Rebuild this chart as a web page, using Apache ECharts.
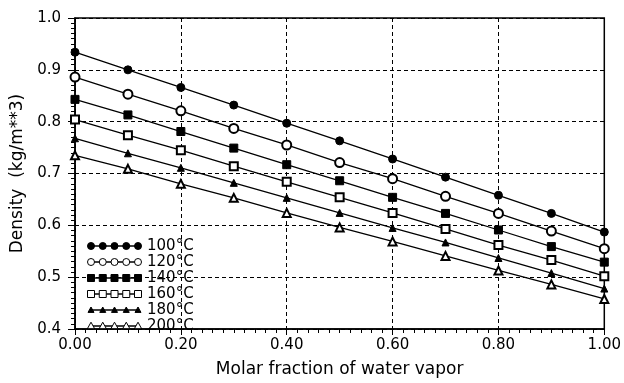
<!DOCTYPE html>
<html>
<head>
<meta charset="utf-8">
<script src="https://cdn.jsdelivr.net/npm/echarts@6/dist/echarts.min.js"></script>
<style>
  html, body { margin: 0; padding: 0; background: #fff; }
  #chart { width: 624px; height: 383px; }
</style>
</head>
<body>
<div id="chart"></div>
<script>
const xValues = [0, 0.1, 0.2, 0.3, 0.4, 0.5, 0.6, 0.7, 0.8, 0.9, 1.0]
const seriesNames = ['100°C', '120°C', '140°C', '160°C', '180°C', '200°C']
const d100 = [0.934, 0.900, 0.866, 0.832, 0.797, 0.763, 0.728, 0.693, 0.658, 0.623, 0.587]
const d120 = [0.886, 0.853, 0.821, 0.787, 0.755, 0.721, 0.690, 0.656, 0.623, 0.589, 0.555]
const d140 = [0.843, 0.813, 0.781, 0.749, 0.717, 0.686, 0.654, 0.623, 0.591, 0.559, 0.529]
const d160 = [0.804, 0.774, 0.745, 0.714, 0.684, 0.654, 0.624, 0.593, 0.562, 0.533, 0.502]
const d180 = [0.768, 0.739, 0.711, 0.682, 0.653, 0.624, 0.595, 0.567, 0.537, 0.508, 0.478]
const d200 = [0.735, 0.709, 0.680, 0.653, 0.624, 0.596, 0.569, 0.541, 0.513, 0.486, 0.458]
const symbols = ['circle', 'emptyCircle', 'rect', 'emptyRect', 'triangle', 'emptyTriangle']
const symbolSizes = [8, 9, 8, 8, 7, 8]

const allData = [d100, d120, d140, d160, d180, d200]
const font = 'DejaVu Sans, Verdana, sans-serif'

const chart = echarts.init(document.getElementById('chart'))

const series = allData.map((vals, i) => ({
  name: seriesNames[i],
  type: 'line',
  xAxisIndex: 0,
  yAxisIndex: 0,
  data: xValues.map((x, j) => [x, vals[j]]),
  symbol: symbols[i],
  symbolSize: symbolSizes[i],
  showAllSymbol: true,
  lineStyle: { color: '#000', width: 1.3 },
  itemStyle: { color: '#000', borderColor: '#000', borderWidth: 1 },
  emphasis: { disabled: true },
  z: 5
}))

// legend drawn by hand: line with five markers, then the label
const legendGraphics = []
const lx0 = 91, lx1 = 138, ly0 = 246, ldy = 16
seriesNames.forEach((name, i) => {
  const y = ly0 + i * ldy
  legendGraphics.push({
    type: 'line',
    shape: { x1: lx0, y1: y, x2: lx1, y2: y },
    style: { stroke: '#000', lineWidth: 1.3 }
  })
  for (let k = 0; k < 5; k++) {
    const cx = lx0 + k * (lx1 - lx0) / 4
    const hollow = i % 2 === 1
    const st = { fill: hollow ? '#fff' : '#000', stroke: '#000', lineWidth: 1 }
    if (i < 2) {
      legendGraphics.push({ type: 'circle', shape: { cx: cx, cy: y, r: 3.5 }, style: st })
    } else if (i < 4) {
      legendGraphics.push({ type: 'rect', shape: { x: cx - 3.5, y: y - 3.5, width: 7, height: 7 }, style: st })
    } else {
      const s = i === 4 ? 3 : 3.8
      legendGraphics.push({
        type: 'polygon',
        shape: { points: [[cx - s, y + s * 0.8], [cx + s, y + s * 0.8], [cx, y - s]] },
        style: st
      })
    }
  }
  legendGraphics.push({
    type: 'text',
    x: 147, y: y,
    style: { text: name, fill: '#000', font: '15px ' + font, textVerticalAlign: 'middle' }
  })
})

const dash = { color: '#000', type: [4, 3], width: 1 }
const tickStyle = { color: '#000', width: 1 }

// x ticks: outward ticks do not render here, so draw inward ticks on axes shifted below the axis line
const xTickAxis = (interval, len) => ({
  type: 'value',
  position: 'bottom',
  offset: len,
  min: 0,
  max: 1,
  interval: interval,
  axisLine: { show: false, onZero: false },
  axisTick: { show: true, inside: true, length: len, lineStyle: tickStyle },
  axisLabel: { show: false },
  splitLine: { show: false }
})

chart.setOption({
  animation: false,
  backgroundColor: '#fff',
  grid: {
    left: 75,
    right: 17,
    top: 18,
    bottom: 45,
    show: true,
    borderColor: '#000',
    borderWidth: 1.5,
    backgroundColor: 'transparent'
  },
  xAxis: [
    {
      type: 'value',
      position: 'bottom',
      min: 0,
      max: 1,
      interval: 0.2,
      name: 'Molar fraction of water vapor',
      nameLocation: 'middle',
      nameGap: 32,
      nameTextStyle: { color: '#000', fontSize: 17, fontFamily: font },
      axisLine: { show: true, onZero: false, lineStyle: { color: '#000', width: 1.5 } },
      axisTick: { show: false },
      axisLabel: {
        color: '#000', fontSize: 15, fontFamily: font, margin: 9,
        formatter: v => v.toFixed(2)
      },
      splitLine: { show: true, lineStyle: dash }
    },
    xTickAxis(0.02, 4),
    xTickAxis(0.2, 6)
  ],
  yAxis: [
    {
      type: 'value',
      position: 'left',
      min: 0.4,
      max: 1.0,
      interval: 0.1,
      name: 'Density  (kg/m**3)',
      nameLocation: 'middle',
      nameGap: 42,
      nameTextStyle: { color: '#000', fontSize: 17, fontFamily: font },
      axisLine: { show: true, onZero: false, lineStyle: { color: '#000', width: 1.5 } },
      axisTick: { show: true, length: 7, lineStyle: tickStyle },
      axisLabel: {
        color: '#000', fontSize: 15, fontFamily: font, margin: 14,
        formatter: v => v.toFixed(1)
      },
      splitLine: { show: true, lineStyle: dash }
    },
    {
      // minor ticks only
      type: 'value',
      position: 'left',
      offset: 0,
      min: 0.4,
      max: 1.0,
      interval: 0.01,
      axisLine: { show: false, onZero: false },
      axisTick: { show: true, length: 4, lineStyle: tickStyle },
      axisLabel: { show: false },
      splitLine: { show: false }
    }
  ],
  graphic: legendGraphics,
  series: series
})
</script>
</body>
</html>
